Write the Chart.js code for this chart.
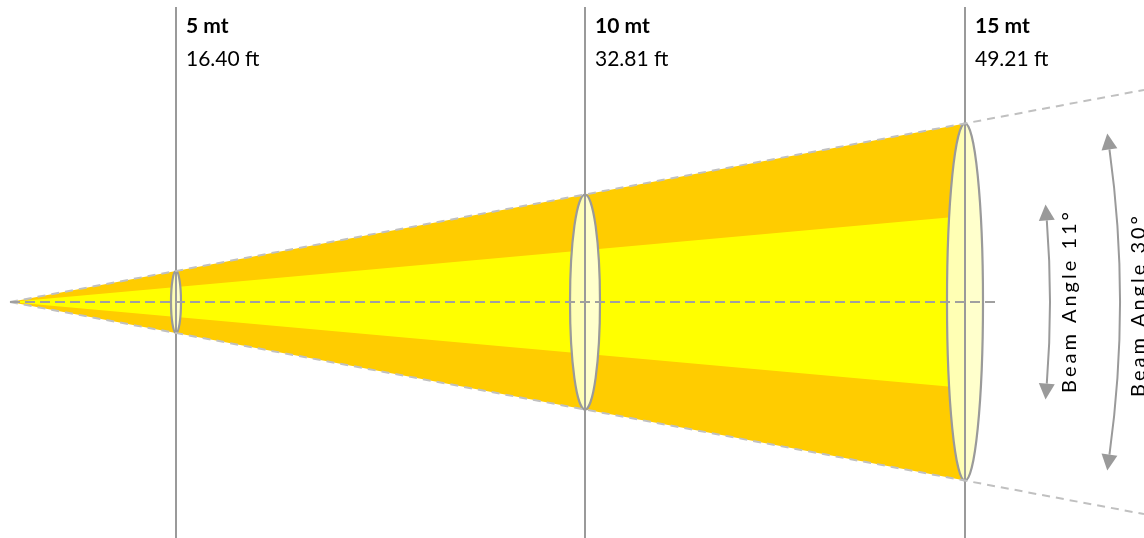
<!DOCTYPE html>
<html>
<head>
<meta charset="utf-8">
<script src="https://cdn.jsdelivr.net/npm/chart.js@4.4.1/dist/chart.umd.min.js"></script>
<style>
  html, body { margin: 0; padding: 0; background: #fff; }
  canvas { display: block; }
</style>
</head>
<body>
<canvas id="beam" width="1144" height="538"></canvas>
<script>
// values shown on the drawing
const distancesMt = [5, 10, 15];
const distancesFt = ['16.40', '32.81', '49.21'];
const beamAngles = [11, 30];

// drawing layout (the sketch is not to scale)
const stationX = [166, 575, 955];   // where each distance sits on the x axis
const innerSpread = 0.09;           // half height of the inner cone per x unit
const outerSpread = 0.187;          // half height of the outer cone per x unit
const lensWidth = [5, 15, 18];      // half width of each cross-section ellipse
const xMin = -10, xMax = 1134, yMin = -236, yMax = 302;
const lastX = stationX[stationX.length - 1];

const grey = '#9a9a9a';

function edge(spread, sign, toX) {
    return [{ x: 0, y: 0 }, { x: toX, y: sign * spread * toX }];
}

datasets = []
// dashed centre line
datasets.push({ data: [{ x: 0, y: 0 }, { x: 988, y: 0 }], borderColor: '#a0a0a0', borderWidth: 2, borderDash: [10, 5] })
// dashed outer edges, running off the page
datasets.push({ data: edge(outerSpread, 1, xMax), borderColor: '#c0c0c0', borderWidth: 2, borderDash: [8, 6] })
datasets.push({ data: edge(outerSpread, -1, xMax), borderColor: '#c0c0c0', borderWidth: 2, borderDash: [8, 6] })
// vertical marker lines
stationX.forEach(x => {
    datasets.push({ data: [{ x: x, y: 295 }, { x: x, y: yMin }], borderColor: grey, borderWidth: 2 })
});
const innerIndex = datasets.length
// inner (yellow) cone
datasets.push({ data: edge(innerSpread, 1, lastX), borderWidth: 0, fill: '+1', backgroundColor: '#ffff00' })
datasets.push({ data: edge(innerSpread, -1, lastX), borderWidth: 0 })
// outer (orange) cone
datasets.push({ data: edge(outerSpread, 1, lastX), borderWidth: 0, fill: '+1', backgroundColor: '#ffcc00' })
datasets.push({ data: edge(outerSpread, -1, lastX), borderWidth: 0 })

const beamExtras = {
    id: 'beamExtras',
    afterDatasetDraw(chart, args) {
        if (args.index !== innerIndex) return;
        const ctx = chart.ctx, xs = chart.scales.x, ys = chart.scales.y;
        // cross-section ellipses
        stationX.forEach((x, i) => {
            const cx = xs.getPixelForValue(x), cy = ys.getPixelForValue(0);
            const ry = ys.getPixelForValue(0) - ys.getPixelForValue(outerSpread * x);
            const rx = lensWidth[i];
            ctx.save();
            ctx.beginPath();
            ctx.ellipse(cx, cy, rx, ry, 0, Math.PI / 2, Math.PI * 1.5);
            ctx.fillStyle = '#ffffb4';
            ctx.fill();
            ctx.beginPath();
            ctx.ellipse(cx, cy, rx, ry, 0, -Math.PI / 2, Math.PI / 2);
            ctx.fillStyle = '#ffffcc';
            ctx.fill();
            ctx.beginPath();
            ctx.ellipse(cx, cy, rx, ry, 0, 0, Math.PI * 2);
            ctx.strokeStyle = grey;
            ctx.lineWidth = 2.2;
            ctx.stroke();
            ctx.restore();
        });
    },
    afterDraw(chart) {
        const ctx = chart.ctx, xs = chart.scales.x, ys = chart.scales.y;
        const ax = xs.getPixelForValue(0), ay = ys.getPixelForValue(0);
        ctx.save();
        // distance labels
        ctx.fillStyle = '#000';
        ctx.textBaseline = 'alphabetic';
        stationX.forEach((x, i) => {
            const px = xs.getPixelForValue(x) + 10;
            ctx.font = 'bold 21px Lato';
            ctx.fillText(distancesMt[i] + ' mt', px, 33);
            ctx.font = '21px Lato';
            ctx.fillText(distancesFt[i] + ' ft', px, 66);
        });
        // beam angle arcs, centred on the apex
        const arcs = [
            { r: 1040, a: 4.5, textX: 1076, textY: 301 },
            { r: 1110, a: 7.9, textX: 1145, textY: 305 }
        ];
        arcs.forEach((arc, i) => {
            const a = arc.a * Math.PI / 180;
            ctx.strokeStyle = grey;
            ctx.fillStyle = grey;
            ctx.lineWidth = 2;
            ctx.beginPath();
            ctx.arc(ax, ay, arc.r, -a, a);
            ctx.stroke();
            [-a, a].forEach(t => {
                const bx = ax + arc.r * Math.cos(t), by = ay + arc.r * Math.sin(t);
                // tangent pointing away from the arc
                const ux = -Math.sin(Math.abs(t)), uy = t < 0 ? -Math.cos(t) : Math.cos(t);
                const nx = -uy, ny = ux;
                ctx.beginPath();
                ctx.moveTo(bx + ux * 16, by + uy * 16);
                ctx.lineTo(bx + nx * 8, by + ny * 8);
                ctx.lineTo(bx - nx * 8, by - ny * 8);
                ctx.closePath();
                ctx.fill();
            });
            ctx.save();
            ctx.translate(arc.textX, arc.textY);
            ctx.rotate(-Math.PI / 2);
            ctx.fillStyle = '#000';
            ctx.font = '20px Lato';
            ctx.letterSpacing = '3px';
            ctx.textAlign = 'center';
            ctx.fillText('Beam Angle ' + beamAngles[i] + '°', 0, 0);
            ctx.restore();
        });
        ctx.restore();
    }
};

new Chart(document.getElementById('beam'), {
    type: 'scatter',
    data: { datasets: datasets },
    options: {
        responsive: false,
        animation: false,
        showLine: true,
        elements: { point: { radius: 0, hoverRadius: 0 }, line: { tension: 0 } },
        layout: { padding: 0 },
        scales: {
            x: { type: 'linear', display: false, min: xMin, max: xMax },
            y: { type: 'linear', display: false, min: yMin, max: yMax }
        },
        plugins: { legend: { display: false }, tooltip: { enabled: false } },
        events: []
    },
    plugins: [beamExtras]
});
</script>
</body>
</html>
